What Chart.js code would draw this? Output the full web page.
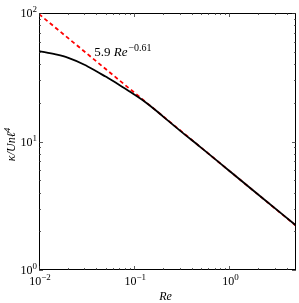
<!DOCTYPE html>
<html>
<head>
<meta charset="utf-8">
<script src="https://cdn.jsdelivr.net/npm/chart.js@4/dist/chart.umd.min.js"></script>
<style>
  html, body { margin: 0; padding: 0; background: #fff; }
  #wrap { width: 299px; height: 303px; }
</style>
</head>
<body>
<div id="wrap"><canvas id="c"></canvas></div>
<script>
// curve
const reValues = [0.01, 0.015, 0.02, 0.03, 0.04, 0.05, 0.06, 0.076, 0.1, 0.12, 0.15, 0.2, 0.3, 0.5, 1, 2, 5];
const kappaValues = [50.5, 47.6, 45, 39.6, 35.2, 32, 29.6, 26.4, 23.2, 21.2, 18.7, 15.7, 12.2, 9.0, 5.9, 3.87, 2.22];
// fit line 5.9 Re^-0.61, end points
const fitRe = [0.01, 5];
const fitKappa = [98, 2.21];
const xTicks = [0.01, 0.1, 1];
const xTickExp = ["\u22122", "\u22121", "0"];
const yTicks = [1, 10, 100];
const yTickExp = ["0", "1", "2"];
const fitLabelAt = { x: 0.038, y: 46 };

const serif = '"Liberation Serif", "DejaVu Serif", serif';

function minorTicks(lo, hi) {
  const out = [];
  for (let d = lo; d < hi * 10; d *= 10) {
    for (let m = 2; m <= 9; m++) {
      const v = m * d;
      if (v > lo && v < hi) out.push(v);
    }
  }
  return out;
}

function powLabel(ctx, x, y, exp, align) {
  ctx.font = '12px ' + serif;
  const wb = ctx.measureText('10').width;
  ctx.font = '9px ' + serif;
  const we = ctx.measureText(exp).width;
  let x0 = x;
  if (align === 'center') x0 = x - (wb + we) / 2;
  if (align === 'right') x0 = x - (wb + we);
  ctx.textBaseline = 'alphabetic';
  ctx.textAlign = 'left';
  ctx.font = '12px ' + serif;
  ctx.fillText('10', x0, y);
  ctx.font = '9px ' + serif;
  ctx.fillText(exp, x0 + wb, y - 5);
}

const axesPlugin = {
  id: 'axesPlugin',
  afterDraw(chart) {
    const ctx = chart.ctx;
    const a = chart.chartArea;
    const xs = chart.scales.x, ys = chart.scales.y;
    ctx.save();
    ctx.strokeStyle = '#000';
    ctx.fillStyle = '#000';
    ctx.lineWidth = 1;
    ctx.strokeRect(a.left + 0.5, a.top + 0.5, a.right - a.left - 1, a.bottom - a.top - 1);

    ctx.lineWidth = 0.8;
    ctx.strokeStyle = '#333';
    const tick = (x1, y1, x2, y2) => { ctx.beginPath(); ctx.moveTo(x1, y1); ctx.lineTo(x2, y2); ctx.stroke(); };
    xTicks.forEach(v => {
      const p = Math.round(xs.getPixelForValue(v)) + 0.5;
      tick(p, a.bottom, p, a.bottom - 4);
      tick(p, a.top, p, a.top + 4);
    });
    minorTicks(0.01, 5).forEach(v => {
      const p = Math.round(xs.getPixelForValue(v)) + 0.5;
      tick(p, a.bottom, p, a.bottom - 2);
      tick(p, a.top, p, a.top + 2);
    });
    yTicks.forEach(v => {
      const p = Math.round(ys.getPixelForValue(v)) + 0.5;
      tick(a.left, p, a.left + 4, p);
      tick(a.right, p, a.right - 4, p);
    });
    minorTicks(1, 100).forEach(v => {
      const p = Math.round(ys.getPixelForValue(v)) + 0.5;
      tick(a.left, p, a.left + 2, p);
      tick(a.right, p, a.right - 2, p);
    });

    ctx.fillStyle = '#000';
    xTicks.forEach((v, i) => {
      powLabel(ctx, xs.getPixelForValue(v) + 1, a.bottom + 15, xTickExp[i], 'center');
    });
    yTicks.forEach((v, i) => {
      powLabel(ctx, a.left - 2, ys.getPixelForValue(v) + 4, yTickExp[i], 'right');
    });

    // axis titles
    ctx.font = 'italic 12px ' + serif;
    ctx.textAlign = 'center';
    ctx.textBaseline = 'alphabetic';
    ctx.fillText('Re', (a.left + a.right) / 2 - 2, 300);

    ctx.save();
    ctx.translate(15, (a.top + a.bottom) / 2 + 3);
    ctx.rotate(-Math.PI / 2);
    ctx.font = 'italic 12px ' + serif;
    const main = 'κ/Unℓ';
    const wm = ctx.measureText(main).width;
    ctx.font = '9px ' + serif;
    const w4 = ctx.measureText('4').width;
    ctx.textAlign = 'left';
    ctx.font = 'italic 12px ' + serif;
    ctx.fillText(main, -(wm + w4) / 2, 0);
    ctx.font = 'italic 9px ' + serif;
    ctx.fillText('4', -(wm + w4) / 2 + wm, -5);
    ctx.restore();

    // fit annotation
    const lx = xs.getPixelForValue(fitLabelAt.x), ly = ys.getPixelForValue(fitLabelAt.y);
    ctx.textAlign = 'left';
    ctx.font = '13px ' + serif;
    ctx.fillText('5.9 ', lx, ly);
    let w = ctx.measureText('5.9 ').width;
    ctx.font = 'italic 13px ' + serif;
    ctx.fillText('Re', lx + w, ly);
    w += ctx.measureText('Re').width;
    ctx.font = '10px ' + serif;
    ctx.fillText('\u22120.61', lx + w + 1, ly - 5);
    ctx.restore();
  }
};

new Chart(document.getElementById('c'), {
  type: 'scatter',
  data: {
    datasets: [
      {
        data: reValues.map((r, i) => ({ x: r, y: kappaValues[i] })),
        showLine: true,
        borderColor: '#000',
        borderWidth: 1.8,
        pointRadius: 0,
        cubicInterpolationMode: 'monotone'
      },
      {
        data: fitRe.map((r, i) => ({ x: r, y: fitKappa[i] })),
        showLine: true,
        borderColor: '#ff0000',
        borderWidth: 1.8,
        borderDash: [4, 3],
        pointRadius: 0
      }
    ]
  },
  options: {
    responsive: true,
    maintainAspectRatio: false,
    animation: false,
    layout: { padding: { left: 39, right: 3, top: 13, bottom: 33 } },
    plugins: { legend: { display: false }, tooltip: { enabled: false } },
    scales: {
      x: { type: 'logarithmic', min: 0.01, max: 5, display: false },
      y: { type: 'logarithmic', min: 1, max: 100, display: false }
    }
  },
  plugins: [axesPlugin]
});
</script>
</body>
</html>
